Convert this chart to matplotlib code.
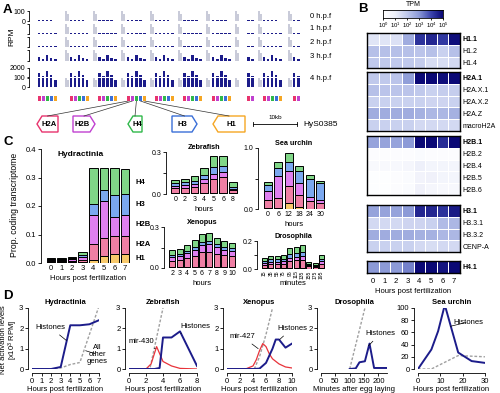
import numpy as np
import matplotlib.pyplot as plt
from matplotlib.colors import LinearSegmentedColormap
from matplotlib.patches import Polygon

plt.rcParams['font.family'] = ['Liberation Sans', 'DejaVu Sans']
plt.rcParams['font.size'] = 5
plt.rcParams['axes.linewidth'] = 0.6
plt.rcParams['xtick.major.width'] = 0.6
plt.rcParams['ytick.major.width'] = 0.6
plt.rcParams['xtick.major.size'] = 2
plt.rcParams['ytick.major.size'] = 2
plt.rcParams['xtick.major.pad'] = 1.2
plt.rcParams['ytick.major.pad'] = 1.2
plt.rcParams['mathtext.default'] = 'regular'

# ---------------- data: A (histone cluster tracks, kb) ----------------
stage_names = ['0 h.p.f', '1 h.p.f', '2 h.p.f', '3 h.p.f', '4 h.p.f']
cluster_kb = [1.3, 8.4, 14.7, 21.1, 27.3, 33.6, 40.0, 47.8, 51.3, 58.0]
cluster_ngenes = [5, 5, 5, 5, 5, 5, 5, 2, 5, 2]
gray_kb = [7.3, 13.6, 19.8, 26.2, 32.4, 38.7, 45.1, 50.2, 56.9]
gray_rpm = [100, 75]
gene_order = ['H2A', 'H2B', 'H4', 'H3', 'H1']
rpm_0h = [10, 6, 12, 8, 5]
rpm_1h = [12, 8, 14, 10, 6]
rpm_2h = [10, 8, 15, 9, 6]
rpm_3h = [35, 22, 55, 30, 18]
rpm_4h = [900, 300, 1400, 600, 80]

# ---------------- data: B (log10 TPM, 0-7 hpf) ----------------
h1_names = ['H1.1', 'H1.2', 'H1.4']
tpm_h1 = [[1.3, 1.3, 1.4, 2.6, 4.3, 4.5, 4.2, 4.9],
          [2.2, 2.2, 2.2, 2.2, 2.1, 2.2, 1.8, 2.2],
          [2.0, 2.0, 2.0, 2.0, 1.9, 1.5, 1.5, 1.6]]
h2a_names = ['H2A.1', 'H2A.X.1', 'H2A.X.2', 'H2A.Z', 'macroH2A']
tpm_h2a = [[2.0, 2.0, 2.1, 2.9, 5.0, 5.0, 4.9, 5.0],
           [2.2, 2.1, 2.1, 2.1, 2.0, 1.8, 1.9, 1.9],
           [1.8, 1.8, 1.8, 1.8, 1.8, 1.7, 1.7, 1.8],
           [2.6, 2.6, 2.6, 2.6, 2.5, 2.4, 2.4, 2.5],
           [1.8, 1.8, 1.8, 1.8, 1.6, 1.6, 1.6, 1.6]]
h2b_names = ['H2B.1', 'H2B.2', 'H2B.4', 'H2B.5', 'H2B.6']
tpm_h2b = [[2.8, 2.8, 2.8, 3.0, 5.0, 5.0, 4.4, 5.0],
           [0.2, 0.2, 0.2, 0.2, 0.3, 0.2, 0.2, 0.2],
           [0.4, 0.4, 0.5, 0.6, 1.0, 0.7, 0.7, 0.7],
           [0.1, 0.1, 0.2, 0.3, 0.8, 0.9, 0.7, 0.7],
           [0.1, 0.1, 0.2, 0.3, 0.9, 0.6, 0.5, 0.5]]
h3_names = ['H3.1', 'H3.3.1', 'H3.3.2', 'CENP-A']
tpm_h3 = [[2.8, 2.8, 2.8, 3.0, 4.5, 4.5, 4.3, 4.7],
          [1.6, 1.6, 1.6, 1.7, 1.7, 1.8, 2.3, 2.4],
          [2.6, 2.6, 2.6, 2.6, 2.5, 2.5, 2.4, 2.4],
          [1.8, 1.8, 1.8, 1.8, 1.6, 1.5, 1.6, 1.6]]
h4_names = ['H4.1']
tpm_h4 = [[3.0, 3.0, 3.0, 3.3, 5.0, 5.0, 4.8, 5.0]]
hm_hours = ['0', '1', '2', '3', '4', '5', '6', '7']

# ---------------- data: C (stacked proportions H1,H2A,H2B,H3,H4) ----------------
hyd_hours = ['0', '1', '2', '3', '4', '5', '6', '7']
hyd_props = [[.002, .002, .003, .003, .012, .024, .033, .033],
             [.004, .004, .005, .008, .053, .062, .063, .063],
             [.004, .004, .005, .010, .105, .132, .066, .074],
             [.003, .003, .004, .007, .036, .037, .077, .071],
             [.004, .004, .005, .010, .129, .077, .093, .088]]
zeb_hours = ['0', '2', '3', '4', '5', '6', '8']
zeb_props = [[.005, .005, .005, .006, .008, .010, .008],
             [.035, .040, .045, .070, .100, .110, .018],
             [.020, .020, .025, .030, .035, .035, .012],
             [.018, .020, .020, .030, .050, .045, .012],
             [.025, .025, .031, .047, .077, .070, .037]]
urc_hours = ['0', '6', '12', '18', '24', '30']
urc_props = [[.010, .010, .100, .030, .005, .005],
             [.130, .170, .270, .200, .125, .095],
             [.150, .360, .260, .200, .070, .040],
             [.110, .130, .140, .190, .290, .290],
             [.050, .100, .140, .090, .060, .030]]
xen_hours = ['2', '3', '4', '5', '6', '7', '8', '9', '10']
xen_props = [[.004, .004, .005, .005, .006, .007, .006, .005, .005],
             [.050, .055, .070, .085, .110, .110, .100, .090, .080],
             [.030, .030, .035, .045, .050, .055, .045, .040, .040],
             [.012, .012, .015, .020, .025, .027, .022, .020, .020],
             [.036, .038, .043, .049, .061, .060, .048, .042, .035]]
dro_bins = ['15', '35', '55', '75', '95', '115', '135', '155', '175', '195']
dro_props = [[.004, .004, .004, .004, .005, .005, .005, .003, .003, .004],
             [.028, .032, .032, .035, .052, .056, .060, .018, .014, .035],
             [.012, .014, .014, .015, .022, .024, .026, .008, .006, .015],
             [.016, .018, .018, .020, .030, .032, .034, .010, .008, .020],
             [.020, .022, .022, .026, .041, .043, .045, .011, .009, .026]]
hist_labels = ['H1', 'H2A', 'H2B', 'H3', 'H4']

# ---------------- data: D (net activation) ----------------
hyd_t = [0, 1, 2, 3, 4, 5, 6, 7]
hyd_histones = [0, 0, 0, 0.1, 2.15, 2.15, 2.2, 2.4]
hyd_other_t = [0, 1, 2, 3, 4, 5, 6, 7]
hyd_other = [0, 0, 0, 0.05, 0.22, 0.32, 1.7, 3.1]
zeb_t = [0, 2, 3, 3.6, 4, 5, 6, 8]
zeb_histones = [0, 0, 0, 0.05, 1.55, 1.55, 1.85, 0.15]
zeb_mir_t = [0, 2, 2.6, 3.25, 4, 5, 6, 8]
zeb_mir430 = [0, 0, 0.25, 1.1, 0.37, 0.15, 0.03, 0]
zeb_other_t = [2, 2.5, 4.0]
zeb_other = [0, 0.1, 3.0]
xen_t = [0, 2, 4, 5, 6, 7, 7.5, 8, 9, 10]
xen_histones = [0, 0, 0, 0.02, 0.3, 1.0, 1.45, 1.45, 1.05, 1.25]
xen_mir_t = [0, 2, 3, 4, 4.5, 5, 5.5, 6, 6.5, 7, 8, 9, 10]
xen_mir427 = [0, 0, 0.02, 0.15, 0.45, 0.9, 1.25, 1.1, 0.75, 0.5, 0.25, 0.1, 0.05]
xen_other_t = [4.2, 5, 6, 7]
xen_other = [0, 0.6, 1.7, 3.0]
dro_t = [100, 121, 134, 153, 169, 185, 229]
dro_histones = [0, 0.03, 0.33, 0.38, 1.25, 0.05, 0.05]
dro_other_t = [100, 153]
dro_other = [0, 3.0]
urc_t = [0, 6, 9, 12, 18, 24, 30]
urc_histones = [0, 32, 62, 105, 27, 13, 10]
urc_other_t = [0, 6, 18, 30]
urc_other = [0, 0, 22, 20]

# ---------------- styles ----------------
NAVY = '#1c1c8a'
GRAY_TRK = '#c9cbd9'
GENE_COLORS = {'H2A': '#e8336d', 'H2B': '#c040d0', 'H4': '#2fb84a',
               'H3': '#3a6fd8', 'H1': '#f5a623'}
C_COLORS = ['#f8c96b', '#ef7fa4', '#df80ef', '#7ba8ef', '#80d687']
tpm_cmap = LinearSegmentedColormap.from_list(
    'tpm', ['#ffffff', '#eef0fa', '#c0c9ec', '#8c9ad7', '#3c45ad', '#0a0875'])

W, H = 500, 393
fig = plt.figure(figsize=(5, 3.93), dpi=100)


def px_axes(x0, y0, x1, y1):
    return fig.add_axes([x0 / W, 1 - y1 / H, (x1 - x0) / W, (y1 - y0) / H])


def ftext(x, y, s, **kw):
    fig.text(x / W, 1 - y / H, s, **kw)


over = px_axes(0, 0, W, H)
over.set_xlim(0, W)
over.set_ylim(H, 0)
over.axis('off')

for lab, x, y in [('A', 3, 10), ('B', 358, 9), ('C', 3, 142), ('D', 3, 296)]:
    ftext(x, y, lab, fontsize=9.5, fontweight='bold', va='center')

# ---------------- A ----------------
TX0, TX1, KB_MAX = 32, 302, 60
gx, gi = [], []
for c, n in zip(cluster_kb, cluster_ngenes):
    for i in range(n):
        gx.append(c + i * 0.9)
        gi.append(i)


def bracket(ax, ticks, labels):
    for s in ['top', 'right', 'bottom']:
        ax.spines[s].set_visible(False)
    ax.spines['left'].set_position(('outward', 2.5))
    ax.set_xticks([])
    ax.set_yticks(ticks)
    ax.set_yticklabels(labels)
    ax.tick_params(axis='y', length=1.5, pad=0.8, labelsize=5)
    ax.patch.set_visible(False)


def draw_track(ax, rpm):
    ax.bar(gray_kb, gray_rpm[0], width=0.4, align='edge', color=GRAY_TRK)
    ax.bar(np.array(gray_kb) + 0.5, gray_rpm[1], width=0.4, align='edge', color=GRAY_TRK)
    ax.bar(gx, [rpm[i] for i in gi], width=0.55, align='edge', color=NAVY)
    ax.set_xlim(0, KB_MAX)


track_rows = [(11, 21), (24, 34), (37, 47), (50, 61)]
for k, ((y0, y1), rpm) in enumerate(zip(track_rows, [rpm_0h, rpm_1h, rpm_2h, rpm_3h])):
    ax = px_axes(TX0, y0, TX1, y1)
    draw_track(ax, rpm)
    ax.set_ylim(0, 100)
    bracket(ax, [0, 100], ['0', '100'] if k == 0 else ['', ''])

ax = px_axes(TX0, 68, TX1, 77)
draw_track(ax, rpm_4h)
ax.set_ylim(100, 2000)
bracket(ax, [100, 2000], ['', '2000'])
ax = px_axes(TX0, 78, TX1, 87)
draw_track(ax, rpm_4h)
ax.set_ylim(0, 100)
bracket(ax, [0, 100], ['0', '100'])

for y, s in zip([16, 29, 42, 56, 79], stage_names):
    ftext(310, y, s, fontsize=5.5, va='center')
ftext(12, 37, 'RPM', fontsize=6, rotation=90, va='center', ha='center')

ax = px_axes(TX0, 96, TX1, 101)
ax.bar(gx, 1, width=0.6, align='edge', color=[GENE_COLORS[gene_order[i]] for i in gi])
ax.set_xlim(0, KB_MAX)
ax.set_ylim(0, 1)
ax.axis('off')

# gene diagram of one repeat
shapes = [('H2A', 37, 58, 'left'), ('H2B', 73, 95, 'right'), ('H4', 128, 142, 'left'),
          ('H3', 172, 197, 'right'), ('H1', 213, 245, 'left')]
sy0, sy1 = 116, 132
hl = 3  # highlighted cluster
for i, (name, xa, xb, d) in enumerate(shapes):
    ym = (sy0 + sy1) / 2
    if d == 'left':
        pts = [(xa, ym), (xa + 5, sy0), (xb, sy0), (xb, sy1), (xa + 5, sy1)]
    else:
        pts = [(xa, sy0), (xb - 5, sy0), (xb, ym), (xb - 5, sy1), (xa, sy1)]
    over.add_patch(Polygon(pts, closed=True, facecolor='white',
                           edgecolor=GENE_COLORS[name], lw=1.0))
    over.text((xa + xb) / 2 + (2 if d == 'left' else -2), ym, name, fontsize=5.5,
              fontweight='bold', ha='center', va='center')
    gene_px = TX0 + (cluster_kb[hl] + i * 0.9 + 0.3) / KB_MAX * (TX1 - TX0)
    over.plot([gene_px, (xa + xb) / 2], [101, sy0], color='#333333', lw=0.5)

over.plot([253, 297], [124, 124], color='black', lw=0.6)
over.plot([253, 253], [122, 126], color='black', lw=0.6)
over.plot([297, 297], [122, 126], color='black', lw=0.6)
over.text(275, 120, '10kb', fontsize=4.5, ha='center', va='bottom')
over.text(303, 125, 'HyS0385', fontsize=6, va='center')

# ---------------- B ----------------
ax = px_axes(383, 10, 443, 18)
ax.imshow(np.linspace(0, 5, 200)[None, :], aspect='auto', cmap=tpm_cmap,
          extent=(0, 5, 0, 1))
ax.set_yticks([])
ax.set_xticks(range(6))
ax.set_xticklabels(['$10^%d$' % i for i in range(6)])
ax.tick_params(axis='x', length=1.5, labelsize=4.3, pad=0.8)
ftext(413, 4, 'TPM', fontsize=5, ha='center', va='center')

ROW_H = 11.8
bold_rows = ['H1.1', 'H2A.1', 'H2B.1', 'H3.1', 'H4.1']
blocks = [(33, h1_names, tpm_h1), (72, h2a_names, tpm_h2a), (136, h2b_names, tpm_h2b),
          (205, h3_names, tpm_h3), (261, h4_names, tpm_h4)]
for top, names, vals in blocks:
    n = len(names)
    ax = px_axes(367, top, 460, top + n * ROW_H)
    ax.pcolormesh(np.array(vals), cmap=tpm_cmap, vmin=0, vmax=5,
                  edgecolors='white', linewidth=0.7)
    ax.set_xlim(0, 8)
    ax.set_ylim(n, 0)
    ax.set_yticks(np.arange(n) + 0.5)
    ax.set_yticklabels(names)
    ax.yaxis.tick_right()
    ax.tick_params(length=0, labelsize=5, pad=2)
    for t in ax.get_yticklabels():
        if t.get_text() in bold_rows:
            t.set_fontweight('bold')
    ax.set_xticks([])
    for sp in ax.spines.values():
        sp.set_linewidth(1.0)
ax.set_xticks(np.arange(8) + 0.5)
ax.set_xticklabels(hm_hours)
ax.tick_params(axis='x', length=0, labelsize=5.5, pad=4)
ax.set_xlabel('Hours post fertilization', fontsize=5.5, labelpad=2)


# ---------------- C ----------------
def stacked(ax, props, labels, ymax, yticks, ylabs, title, xlabel, title_in=False):
    x = np.arange(len(labels))
    bottom = np.zeros(len(labels))
    for vals, col in zip(props, C_COLORS):
        ax.bar(x, vals, 0.8, bottom=bottom, color=col, edgecolor='black', linewidth=0.7)
        bottom += np.array(vals)
    ax.set_xlim(-0.55, len(labels) - 0.45)
    ax.set_ylim(0, ymax)
    ax.set_yticks(yticks)
    ax.set_yticklabels(ylabs)
    ax.set_xticks(x)
    ax.set_xticklabels(labels)
    for s in ['top', 'right', 'bottom']:
        ax.spines[s].set_visible(False)
    ax.spines['left'].set_position(('outward', 3))
    ax.tick_params(axis='x', length=0, pad=1.5)
    ax.tick_params(axis='y', labelsize=5)
    ax.set_xlabel(xlabel, fontsize=5.5, labelpad=2)
    if title_in:
        ax.text(0.42, 0.95, title, transform=ax.transAxes, ha='center', va='center',
                fontsize=6, fontweight='bold')
    else:
        ax.set_title(title, fontsize=5.2, fontweight='bold', pad=2)


ax = px_axes(45, 149, 131, 263)
stacked(ax, hyd_props, hyd_hours, 0.4, [0, .1, .2, .3, .4],
        ['0.0', '0.1', '0.2', '0.3', '0.4'], 'Hydractinia', 'Hours post fertilization',
        title_in=True)
ax.tick_params(axis='x', labelsize=5.5)
ax.tick_params(axis='y', labelsize=5.5)
for y, s in zip([182, 204, 225, 244, 258], hist_labels[::-1]):
    ftext(136, y, s, fontsize=5.5, fontweight='bold', va='center')
ftext(15, 205, 'Prop. coding transcriptome', fontsize=6.2, rotation=90,
      ha='center', va='center')

ax = px_axes(170, 152, 238, 194)
stacked(ax, zeb_props, zeb_hours, 0.3, [0, .15, .3], ['0.0', '', '0.3'],
        'Zebrafish', 'hours')
ax = px_axes(262, 148, 326, 209)
stacked(ax, urc_props, urc_hours, 1.0, [0, .5, 1], ['0.0', '', '1.0'],
        'Sea urchin', 'hours')
ax = px_axes(168, 227, 236, 268)
stacked(ax, xen_props, xen_hours, 0.3, [0, .15, .3], ['0.0', '', '0.3'],
        'Xenopus', 'hours')
ax = px_axes(261, 241, 325, 269)
stacked(ax, dro_props, dro_bins, 0.2, [0, .1, .2], ['0.0', '', '0.2'],
        'Drosophila', 'minutes')
ax.tick_params(axis='x', labelsize=3.6, labelrotation=90, pad=1)
ax.xaxis.labelpad = 1


# ---------------- D ----------------
def line_axes(ax, xlim, xticks, ylim, yticks, xlabel, title):
    ax.set_xlim(*xlim)
    ax.set_ylim(*ylim)
    ax.set_xticks(xticks)
    ax.set_yticks(yticks)
    for s in ['top', 'right']:
        ax.spines[s].set_visible(False)
    ax.spines['left'].set_position(('outward', 3))
    ax.spines['bottom'].set_position(('outward', 3))
    ax.tick_params(labelsize=5.5)
    ax.set_xlabel(xlabel, fontsize=5.5, labelpad=1)
    ax.set_title(title, fontsize=5.5, fontweight='bold', pad=3)
    ax.patch.set_visible(False)


def ann(ax, s, xy, xytext, **kw):
    ax.annotate(s, xy=xy, xytext=xytext, fontsize=5.5, ha='center', va='center',
                arrowprops=dict(arrowstyle='-', lw=0.5, color='black',
                                shrinkA=1.5, shrinkB=0), **kw)


DASH = dict(color='#a0a0a0', lw=1.0, dashes=(2, 1.3))
RED = dict(color='#e8333a', lw=0.9)
BLUE = dict(color=NAVY, lw=1.4)

ax = px_axes(32, 308, 99, 369)
ax.plot(hyd_other_t, hyd_other, **DASH)
ax.plot(hyd_t, hyd_histones, **BLUE)
line_axes(ax, (0, 7), range(8), (0, 3), [0, 1, 2, 3], 'Hours post fertilization',
          'Hydractinia')
ann(ax, 'Histones', (3.6, 1.4), (1.9, 2.05))
ann(ax, 'All\nother\ngenes', (5.6, 0.9), (6.8, 0.72), linespacing=1.0)

ax = px_axes(129, 308, 197, 369)
ax.plot(zeb_other_t, zeb_other, **DASH)
ax.plot(zeb_mir_t, zeb_mir430, **RED)
ax.plot(zeb_t, zeb_histones, **BLUE)
line_axes(ax, (0, 8), [0, 2, 4, 6, 8], (0, 3), [0, 1, 2, 3], 'Hours post fertilization',
          'Zebrafish')
ann(ax, 'mir-430', (3.1, 1.0), (1.4, 1.33))
ann(ax, 'Histones', (6.1, 1.75), (7.8, 2.07))

ax = px_axes(227, 308, 292, 369)
ax.plot(xen_other_t, xen_other, **DASH)
ax.plot(xen_mir_t, xen_mir427, **RED)
ax.plot(xen_t, xen_histones, **BLUE)
line_axes(ax, (0, 10), [0, 2, 4, 6, 8, 10], (0, 3), [0, 1, 2, 3],
          'Hours post fertilization', 'Xenopus')
ann(ax, 'mir-427', (4.8, 1.0), (2.3, 1.6))
ann(ax, 'Histones', (8.1, 1.45), (10.0, 2.0))

ax = px_axes(321, 308, 387, 369)
ax.plot(dro_other_t, dro_other, **DASH)
ax.plot(dro_t, dro_histones, **BLUE)
line_axes(ax, (0, 230), [0, 50, 100, 150, 200], (0, 3), [0, 1, 2, 3],
          'Minutes after egg laying', 'Drosophila')
ann(ax, 'Histones', (166, 1.15), (207, 1.75))

ax = px_axes(418, 308, 485, 369)
ax.plot(urc_other_t, urc_other, **DASH)
ax.plot(urc_t, urc_histones, **BLUE)
line_axes(ax, (0, 30), [0, 10, 20, 30], (0, 100), [0, 20, 40, 60, 80, 100],
          'Hours post fertilization', 'Sea urchin')
ann(ax, 'Histones', (14.5, 70), (22.4, 77))

ftext(10, 340, 'Net activation levels\n[x10$^3$ RPM]', fontsize=5.5, rotation=90,
      ha='center', va='center', linespacing=1.0)

fig.savefig('out.png', dpi=100)
